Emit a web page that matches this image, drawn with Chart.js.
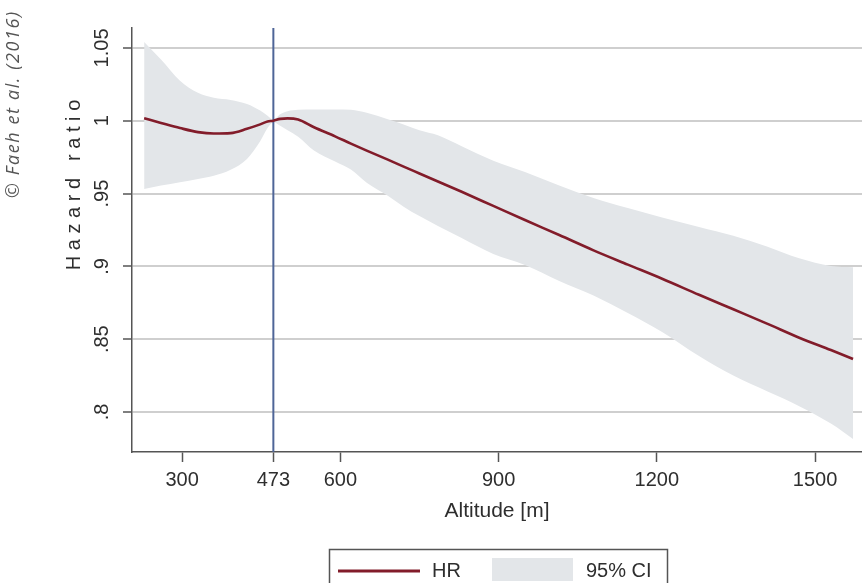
<!DOCTYPE html>
<html><head><meta charset="utf-8">
<script src="https://cdn.jsdelivr.net/npm/chart.js@4/dist/chart.umd.min.js"></script>
<style>html,body{margin:0;padding:0;background:#fff}canvas{display:block}</style>
</head><body>
<canvas id="c" width="862" height="583"></canvas>
<script>
// ---- data ----
const altitudes   = [228, 260, 296, 330, 360, 392, 423, 448, 462, 473, 486, 500, 520, 550, 590, 620, 650, 690, 720, 750, 785, 830, 890, 950, 1015, 1080, 1145, 1210, 1280, 1345, 1410, 1470, 1530, 1572];
const hazardRatio = [1.0017, 0.9985, 0.9950, 0.9922, 0.9912, 0.9915, 0.9945, 0.9975, 0.9995, 1.0000, 1.0013, 1.0016, 1.0008, 0.9955, 0.9893, 0.9843, 0.9795, 0.9733, 0.9685, 0.9638, 0.9583, 0.9512, 0.9415, 0.9318, 0.9215, 0.9110, 0.9012, 0.8915, 0.8805, 0.8705, 0.8605, 0.8510, 0.8425, 0.8364];
const ciUpper     = [1.0540, 1.0420, 1.0275, 1.0192, 1.0158, 1.0143, 1.0115, 1.0070, 1.0035, 1.0008, 1.0045, 1.0065, 1.0075, 1.0078, 1.0078, 1.0075, 1.0055, 1.0010, 0.9975, 0.9935, 0.9900, 0.9825, 0.9726, 0.9648, 0.9556, 0.9470, 0.9400, 0.9335, 0.9270, 0.9210, 0.9135, 0.9055, 0.9003, 0.8994];
const ciLower     = [0.9532, 0.9555, 0.9578, 0.9600, 0.9623, 0.9664, 0.9738, 0.9860, 0.9950, 0.9990, 0.9966, 0.9935, 0.9890, 0.9795, 0.9720, 0.9665, 0.9575, 0.9485, 0.9410, 0.9345, 0.9278, 0.9195, 0.9085, 0.9010, 0.8900, 0.8800, 0.8680, 0.8550, 0.8385, 0.8250, 0.8140, 0.8040, 0.7920, 0.7815];
const referenceAltitude = 473;
const xTickValues = [300, 473, 600, 900, 1200, 1500];
const xTickLabels = ['300', '473', '600', '900', '1200', '1500'];
const yTickValues = [0.8, 0.85, 0.9, 0.95, 1, 1.05];
const yTickLabels = ['.8', '.85', '.9', '.95', '1', '1.05'];
const xRange = [205, 1589];
const yRange = [0.7725, 1.0637];
const seriesLabels = ['HR', '95% CI'];

// ---- styles ----
const FONT = '"Liberation Sans", Arial, sans-serif';
const TEXT = '#2e2e2e';
const AXIS = '#555555';
const HR_COLOR = '#821c2a';
const CI_COLOR = '#e3e6e9';
const REF_COLOR = '#4f6598';

Chart.defaults.font.family = FONT;

const pts = ys => altitudes.map((a, i) => ({ x: a, y: ys[i] }));

const decorations = {
  id: 'decorations',
  afterDraw(chart) {
    const ctx = chart.ctx;
    const ds = chart.data.datasets;
    ctx.save();
    // y axis title (Stata style, spaced letters)
    ctx.fillStyle = TEXT;
    ctx.font = '20px ' + FONT;
    ctx.letterSpacing = '5.6px';
    ctx.textAlign = 'center';
    ctx.textBaseline = 'middle';
    ctx.translate(74, 185);
    ctx.rotate(-Math.PI / 2);
    ctx.fillText('Hazard ratio', 2.8, 0);
    ctx.restore();

    // copyright note
    ctx.save();
    ctx.fillStyle = '#555555';
    ctx.font = 'italic 18px "Open Sans", "Noto Sans", sans-serif';
    ctx.letterSpacing = '1.6px';
    ctx.textAlign = 'center';
    ctx.textBaseline = 'middle';
    ctx.translate(14, 105);
    ctx.rotate(-Math.PI / 2);
    ctx.fillText('\u00A9 Faeh et al. (2016)', 0.8, 0);
    ctx.restore();

    // legend (Stata-like boxed legend)
    ctx.save();
    ctx.strokeStyle = AXIS;
    ctx.lineWidth = 1.5;
    ctx.strokeRect(329.5, 549.5, 338, 60);
    ctx.strokeStyle = ds[0].borderColor;
    ctx.lineWidth = 3;
    ctx.beginPath(); ctx.moveTo(338, 571); ctx.lineTo(420, 571); ctx.stroke();
    ctx.fillStyle = TEXT;
    ctx.font = '20px ' + FONT;
    ctx.textAlign = 'left';
    ctx.textBaseline = 'middle';
    ctx.fillText(ds[0].label, 432, 571);
    ctx.fillStyle = ds[2].backgroundColor;
    ctx.fillRect(492, 558, 81, 23);
    ctx.fillStyle = TEXT;
    ctx.fillText(ds[2].label, 586, 571);
    ctx.restore();
  }
};

new Chart(document.getElementById('c'), {
  type: 'line',
  data: {
    datasets: [
      { label: seriesLabels[0], data: pts(hazardRatio), borderColor: HR_COLOR, borderWidth: 2.6,
        pointRadius: 0, cubicInterpolationMode: 'monotone', fill: false },
      { label: 'reference altitude', data: [{ x: referenceAltitude, y: yRange[0] }, { x: referenceAltitude, y: yRange[1] }],
        borderColor: REF_COLOR, borderWidth: 2, pointRadius: 0, fill: false },
      { label: seriesLabels[1], data: pts(ciUpper), borderWidth: 0, borderColor: CI_COLOR, backgroundColor: CI_COLOR,
        pointRadius: 0, cubicInterpolationMode: 'monotone', fill: '+1' },
      { label: seriesLabels[1] + ' lower', data: pts(ciLower), borderWidth: 0, borderColor: CI_COLOR, backgroundColor: CI_COLOR,
        pointRadius: 0, cubicInterpolationMode: 'monotone', fill: false }
    ]
  },
  options: {
    responsive: false,
    animation: false,
    devicePixelRatio: 1,
    layout: { padding: { top: 28, left: 0, right: 0, bottom: 0 } },
    plugins: { legend: { display: false }, tooltip: { enabled: false } },
    scales: {
      x: {
        type: 'linear', min: xRange[0], max: xRange[1],
        afterBuildTicks: s => { s.ticks = xTickValues.map(v => ({ value: v })); },
        afterFit: s => { s.height = 131; },
        ticks: { callback: (v, i) => xTickLabels[i], autoSkip: false, maxRotation: 0, minRotation: 0,
                 padding: 6, color: TEXT, font: { size: 20 } },
        grid: { drawOnChartArea: false, drawTicks: true, tickLength: 10, tickColor: AXIS, tickWidth: 1.5 },
        border: { display: true, color: AXIS, width: 1.5 },
        title: { display: true, text: 'Altitude [m]', color: TEXT, font: { size: 21 }, padding: { top: 0, bottom: 59 } }
      },
      y: {
        type: 'linear', min: yRange[0], max: yRange[1],
        afterBuildTicks: s => { s.ticks = yTickValues.map(v => ({ value: v })); },
        afterFit: s => { s.width = 132; },
        ticks: { callback: (v, i) => yTickLabels[i], autoSkip: false, minRotation: 90, maxRotation: 90,
                 crossAlign: 'center', padding: 1, color: TEXT, font: { size: 20 } },
        grid: { color: '#cfcfcf', lineWidth: 2, drawTicks: true, tickLength: 9, tickColor: AXIS, tickWidth: 1.5 },
        border: { display: true, color: AXIS, width: 1.5 }
      }
    }
  },
  plugins: [decorations]
});
</script>
</body></html>
